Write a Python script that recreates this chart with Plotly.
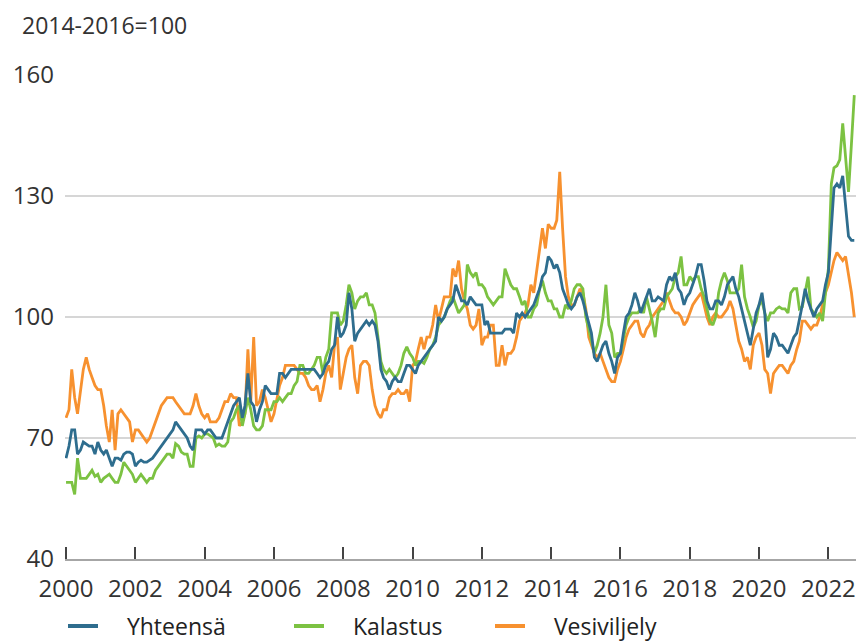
import pandas as pd
import plotly.graph_objects as go

# Monthly index values (2014-2016 = 100), Jan 2000 ... Oct 2022
yhteensa = [
    65, 68, 72, 72, 66, 67, 69, 68.5, 68, 68, 66, 69,
    67, 66, 67, 65, 63, 65, 65, 64.5, 66, 66.5, 66.5, 66,
    63, 64, 64.5, 64, 64, 64.5, 65, 66, 67, 68, 69, 70,
    71, 72, 74, 73, 72, 71, 70, 68, 67, 72, 72, 72,
    71, 72, 72, 71, 70, 70, 70, 72, 74, 76, 78, 79,
    80, 75, 78, 86, 79, 78, 74, 77, 79, 83, 82, 81,
    81, 81, 86, 86, 85, 86, 87, 87, 87, 87, 87, 87,
    87, 87, 87, 86, 85, 86, 88, 89, 92, 93, 100, 95,
    96, 98, 106, 102, 94, 96, 97, 98, 99, 98, 99, 98,
    94, 87, 85, 84, 82, 84, 85, 84, 84, 86, 88, 88,
    87, 86, 88, 89, 90, 91, 92, 93, 94, 100, 99, 100,
    102, 103, 104, 108, 106, 104, 104, 103, 105, 104, 103, 103,
    103, 98, 99, 96, 96, 96, 96, 96, 97, 97, 97, 96,
    101, 100, 101, 100, 101, 102, 103, 105, 107, 110, 111, 115,
    114, 112, 113, 111, 107, 105, 103, 102, 103, 105, 106, 104,
    101, 98, 96, 90, 89, 91, 93, 94, 91, 89, 86, 90,
    91, 96, 100, 101, 103, 106, 104, 101, 103, 105, 107, 104,
    104, 105, 104.5, 104, 108, 110, 109, 111, 107, 106, 103, 105,
    106, 108, 110, 113, 113, 109, 104, 102, 102, 104, 104, 103,
    105, 108, 109, 110, 107, 105, 102, 99, 96, 93, 97, 101,
    103, 106, 101, 90, 92, 96, 95, 93, 93, 92, 91, 93,
    95, 96, 99, 103, 107, 104, 102, 100, 102, 103, 104, 108,
    111, 122, 132, 133, 132, 135, 128, 120, 119, 119,
]

kalastus = [
    59, 59, 59, 56, 65, 60, 60, 60, 61, 62, 60.5, 61,
    59, 60, 60.5, 61, 60, 59, 59, 61, 64, 63, 62, 61,
    59, 60, 61, 60, 59, 60, 60, 62, 63, 64, 65, 66,
    66, 65, 68.6, 68, 66.5, 66, 66, 63, 63, 70, 70.5, 70,
    71, 71, 70.5, 70, 68, 68.5, 68, 68, 69, 74, 75, 77,
    78, 73, 76, 80, 77, 73, 72, 72, 73, 77, 77, 77,
    79, 79, 80, 79, 80, 81, 81, 83, 84, 88, 88, 86,
    86, 87, 88, 90, 90, 86, 90, 92, 101, 101, 101, 98,
    99, 103, 108, 106, 102, 104, 105, 105, 106, 103, 103, 101,
    95, 89, 87, 86, 87, 86, 85, 86, 88, 91, 92.6, 91,
    90, 88, 89, 89, 88.5, 90, 92, 93, 95, 98, 99, 100,
    102, 104, 105, 103, 101, 102, 103, 113, 111, 110, 111, 108,
    108, 107, 105, 104, 103, 104, 105, 105, 112, 110, 108, 107,
    107, 105, 103, 104, 100, 100, 102, 103, 107, 109, 106, 104,
    104, 102, 102, 100, 100, 103, 102, 104, 107, 108, 108, 107,
    100, 97, 94, 91, 93, 96, 100, 108, 98, 96, 90, 91,
    91, 95, 98, 100, 101, 101, 101, 102, 101, 105, 102, 99,
    95, 101, 102, 102, 105, 106, 107, 110, 111, 115, 108, 108,
    110, 109, 110, 110, 107, 105, 102, 99, 98, 100, 106, 109,
    111, 109, 106, 106, 106, 107, 113, 105, 102, 100, 97.5, 99,
    103, 104, 101, 99, 101, 101, 102, 102.5, 102, 102, 101, 106,
    107, 107, 102, 102.5, 106, 110, 102, 101, 100, 101, 99, 106,
    112, 133, 137, 137.5, 139, 148, 140, 131, 143, 155,
]

vesiviljely = [
    75, 77, 87, 80, 76, 82, 87, 90, 87, 85, 83, 82,
    82, 78, 73, 69, 77, 67, 76, 77, 76, 75, 74, 69,
    72, 72, 71, 70, 69, 70, 72, 74, 76, 78, 79, 80,
    80, 80, 79, 78, 77, 76, 76, 76, 78, 81, 78, 76,
    75, 76, 74, 74, 74, 75, 77, 79, 79, 81, 80, 80,
    73, 74, 76, 92, 79, 95, 78, 79, 82, 80, 77, 74,
    76, 80, 83, 85, 88, 88, 88, 88, 87, 86, 86, 85,
    83, 82, 82, 83, 79, 82, 86, 88, 85, 93, 95, 82,
    86, 90, 92, 93, 85, 81, 88, 89, 89, 88, 82, 78,
    76, 75, 77, 77, 80, 81, 81, 82, 81, 81, 82, 79,
    88, 89, 92, 95, 92, 95, 95, 98, 103, 99, 102, 105,
    105, 105, 112, 110, 114, 107, 104, 102, 98, 97, 98, 102,
    93, 95, 95, 98, 98, 88, 88, 93, 88, 91, 91, 92,
    95, 99, 100, 101, 103, 108, 106, 111, 116, 122, 117, 123,
    122, 122, 124, 136, 122, 110, 105, 103, 103, 105, 107, 106,
    102, 95, 93, 91, 90, 91, 89, 87, 85, 84, 84, 87,
    89, 92, 95, 97, 98, 99, 99, 96, 95, 97, 98, 100,
    101, 102, 103, 104, 106, 104, 102, 101, 101, 100, 98, 99,
    101, 103, 104, 105, 106, 103, 100, 98, 100, 101, 100, 100,
    101, 102, 104, 102, 98, 94, 92, 89, 90, 87, 93, 95,
    96, 93, 87, 86, 81, 86, 87, 88, 88, 87, 86, 88,
    89, 92, 94, 99, 99, 98, 97, 98, 98, 100, 103, 106,
    108, 111, 114, 116, 115, 114, 115, 111, 106, 100,
]

months = pd.date_range("2000-01-01", periods=len(yhteensa), freq="MS")

series_names = ["Yhteensä", "Kalastus", "Vesiviljely"]
colors = {"Yhteensä": "#2e6d8e", "Kalastus": "#7cc242", "Vesiviljely": "#f7912f"}
values = {"Yhteensä": yhteensa, "Kalastus": kalastus, "Vesiviljely": vesiviljely}
legend_ids = {"Yhteensä": "legend", "Kalastus": "legend2", "Vesiviljely": "legend3"}
legend_px = {"Yhteensä": 63, "Kalastus": 289, "Vesiviljely": 490}

FONT = "Open Sans"
W, H = 858, 644
L, R, T, B = 65, 2, 75, 85
pw = W - L - R
ph = H - T - B

fig = go.Figure()
# draw order: orange, green, blue on top
for name in ["Vesiviljely", "Kalastus", "Yhteensä"]:
    fig.add_trace(go.Scatter(
        x=months, y=values[name], mode="lines", name=name,
        line=dict(color=colors[name], width=2.8),
        showlegend=False, hoverinfo="skip",
    ))
# legend entries (thicker key lines)
for name in series_names:
    fig.add_trace(go.Scatter(
        x=[None], y=[None], mode="lines", name="\u00a0\u00a0\u00a0\u00a0" + name,
        line=dict(color=colors[name], width=4),
        legend=legend_ids[name], showlegend=True,
    ))

def px_x(p):
    return (p - L) / pw

def px_y(p):
    return (H - B - p) / ph

def leg(name):
    return dict(orientation="h", xref="container", yref="container",
                x=legend_px[name] / W, y=1 - 626 / H,
                yanchor="middle", xanchor="left",
                font=dict(family=FONT, size=23, color="#222222"),
                bgcolor="rgba(0,0,0,0)", borderwidth=0)

fig.update_layout(
    width=W, height=H,
    margin=dict(l=L, r=R, t=T, b=B, autoexpand=False),
    plot_bgcolor="white", paper_bgcolor="white",
    font=dict(family=FONT, size=24, color="#333333"),
    xaxis=dict(
        type="date", automargin=False,
        range=["1999-12-21", "2022-10-19"],
        tickmode="linear", tick0="2000-01-01", dtick="M24", tickformat="%Y",
        showgrid=False, zeroline=False,
        showline=True, linecolor="#a6a6a6", linewidth=2,
        ticks="inside", ticklen=12, tickwidth=2, tickcolor="#444444",
        ticklabelstandoff=7,
        tickfont=dict(family=FONT, size=24, color="#333333"),
    ),
    yaxis=dict(
        range=[40, 160], automargin=False,
        tickmode="array", tickvals=[40, 70, 100, 130, 160],
        showgrid=True, gridcolor="#d6d6d6", gridwidth=2,
        zeroline=False, showline=False, ticks="",
        ticklabelstandoff=10,
        tickfont=dict(family=FONT, size=24, color="#333333"),
    ),
    legend=leg("Yhteensä"),
    legend2=leg("Kalastus"),
    legend3=leg("Vesiviljely"),
    annotations=[dict(
        text="2014-2016=100", xref="paper", yref="paper",
        x=px_x(20), y=px_y(25), xanchor="left", yanchor="middle",
        showarrow=False, font=dict(family=FONT, size=23, color="#333333"),
    )],
)

fig.write_html(
    "out.html",
    config={"displayModeBar": False},
    post_script="document.body.style.margin='0';document.body.style.overflow='hidden';",
)
